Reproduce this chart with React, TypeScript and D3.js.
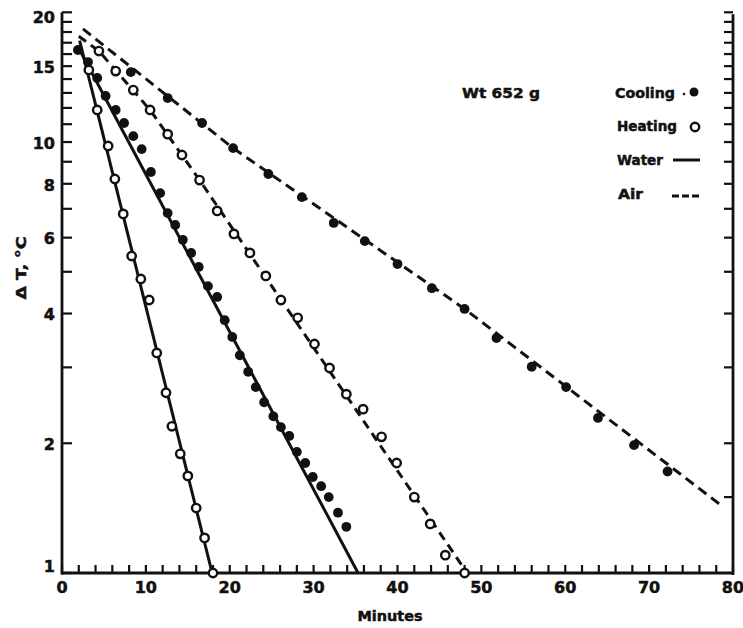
import React from "react";
import * as d3 from "d3";

// ---- data ----
const xTickValues = [0, 10, 20, 30, 40, 50, 60, 70, 80];
const xMinorTicks = d3.range(0, 81, 2);
const yTickLabels = [1, 2, 4, 6, 8, 10, 15, 20];
const yLeftTicks = [1, 2, 3, 4, 5, 6, 7, 8, 9, 10, 11, 12, 13, 14, 15, 16, 17, 18, 19, 20];
const yRightTicks = [1.5, 2, 3, 4, 5, 6, 7, 8, 9, 10, 11, 12, 13, 14, 15, 16, 17, 18, 19, 20];

// Water, heating (open circles)
const waterHeatX = [3.2, 4.2, 5.5, 6.3, 7.3, 8.3, 9.4, 10.4, 11.3, 12.4, 13.1, 14.1, 15.0, 16.0, 17.0, 18.0];
const waterHeatY = [14.69, 11.87, 9.79, 8.21, 6.81, 5.44, 4.81, 4.3, 3.24, 2.62, 2.19, 1.89, 1.68, 1.415, 1.206, 1.0];
// Water, cooling (filled)
const waterCoolX = [1.9, 3.1, 4.2, 5.2, 6.4, 7.4, 8.5, 9.5, 10.6, 11.7, 12.6, 13.5, 14.4, 15.4, 16.3, 17.4, 18.5, 19.4, 20.3, 21.2, 22.2, 23.1, 24.1, 25.2, 26.1, 27.1, 28.0, 29.0, 29.9, 30.9, 31.8, 32.9, 33.9];
const waterCoolY = [16.35, 15.33, 14.08, 12.79, 11.87, 11.07, 10.32, 9.63, 8.52, 7.61, 6.84, 6.42, 5.93, 5.53, 5.13, 4.63, 4.37, 3.86, 3.53, 3.2, 2.93, 2.7, 2.49, 2.31, 2.18, 2.08, 1.91, 1.8, 1.67, 1.59, 1.5, 1.38, 1.28];
// Air, heating (open circles)
const airHeatX = [4.4, 6.4, 8.5, 10.5, 12.6, 14.3, 16.4, 18.5, 20.5, 22.4, 24.3, 26.1, 28.1, 30.1, 31.9, 33.9, 35.9, 38.1, 39.9, 42.0, 43.9, 45.7, 48.0];
const airHeatY = [16.26, 14.61, 13.2, 11.87, 10.43, 9.33, 8.16, 6.92, 6.12, 5.53, 4.89, 4.3, 3.91, 3.4, 2.99, 2.6, 2.4, 2.07, 1.8, 1.5, 1.3, 1.1, 1.0];
// Air, cooling (filled)
const airCoolX = [8.2, 12.6, 16.7, 20.4, 24.6, 28.6, 32.4, 36.1, 40.0, 44.1, 48.0, 51.8, 56.0, 60.1, 63.9, 68.2, 72.2];
const airCoolY = [14.53, 12.65, 11.07, 9.68, 8.43, 7.45, 6.49, 5.89, 5.21, 4.58, 4.1, 3.51, 3.01, 2.7, 2.29, 1.98, 1.72];

// Fitted lines as drawn in the figure
const waterHeatLineX = [2.1, 17.9];
const waterHeatLineY = [17.2, 1.0];
const waterCoolLineX = [2.0, 35.3];
const waterCoolLineY = [16.5, 1.0];
const airHeatLineX = [2.0, 4.4, 10.5, 16.4, 48.3];
const airHeatLineY = [17.6, 16.26, 11.87, 8.16, 1.0];
const airCoolLineX = [2.5, 20.4, 48.0, 78.7];
const airCoolLineY = [18.3, 9.68, 4.1, 1.43];

const legendLabels = ["Cooling", "Heating", "Water", "Air"];
const weightLabel = "Wt 652 g";

const W = 743;
const H = 628;
const FONT = "'DejaVu Sans', 'Liberation Sans', Arial, sans-serif";

export default function App() {
  const x = d3.scaleLinear().domain([0, 80]).range([62, 733]);
  const y = d3.scaleLog().domain([1, 20]).range([573, 12.3]);
  const line = d3
    .line<[number, number]>()
    .x((d) => x(d[0]))
    .y((d) => y(d[1]));
  const zip = (a: number[], b: number[]) => a.map((v, i) => [v, b[i]] as [number, number]);

  const ink = "#111";
  const textStyle = { stroke: ink, strokeWidth: 0.5 } as const;

  return (
    <svg
      width={W}
      height={H}
      viewBox={`0 0 ${W} ${H}`}
      style={{ position: "absolute", left: 0, top: 0, background: "#fff" }}
      fontFamily={FONT}
    >
      <rect x={0} y={0} width={W} height={H} fill="#fff" />
      {/* axes */}
      <line x1={x(0)} x2={x(0)} y1={y(1) + 1.5} y2={y(20)} stroke={ink} strokeWidth={2.8} />
      <line x1={x(80)} x2={x(80)} y1={y(1) + 2} y2={y(20) + 2} stroke={ink} strokeWidth={2.8} />
      <line x1={x(0) - 1} x2={x(80) + 1} y1={y(1)} y2={y(1)} stroke={ink} strokeWidth={3} />

      {/* x ticks */}
      {xMinorTicks.map((t) => (
        <line key={"xt" + t} x1={x(t)} x2={x(t)} y1={y(1)} y2={y(1) - 8} stroke={ink} strokeWidth={2.2} />
      ))}
      {xTickValues.map((t) => (
        <text key={"xl" + t} x={x(t)} y={593} textAnchor="middle" fontSize={16} fontWeight="bold" fill={ink} {...textStyle}>
          {t}
        </text>
      ))}

      {/* y ticks left */}
      {yLeftTicks.map((t) => (
        <line key={"yl" + t} x1={x(0)} x2={x(0) + 10} y1={y(t)} y2={y(t)} stroke={ink} strokeWidth={2.2} />
      ))}
      {yRightTicks.map((t) => (
        <line key={"yr" + t} x1={x(80)} x2={x(80) - 9} y1={y(t)} y2={y(t)} stroke={ink} strokeWidth={2.2} />
      ))}
      {yTickLabels.map((t) => {
        const cy = Math.min(566, Math.max(17, y(t) + 1));
        return (
          <text key={"ylab" + t} x={55} y={cy} dy="0.36em" textAnchor="end" fontSize={16} fontWeight="bold" fill={ink} {...textStyle}>
            {t}
          </text>
        );
      })}

      {/* axis titles */}
      <text x={390} y={621} textAnchor="middle" fontSize={14} fontWeight="bold" fill={ink} textLength={65} lengthAdjust="spacingAndGlyphs" {...textStyle}>
        Minutes
      </text>
      <text
        transform="translate(26,268) rotate(-90)"
        textAnchor="middle"
        fontSize={14}
        fontWeight="bold"
        fill={ink}
        textLength={63}
        lengthAdjust="spacingAndGlyphs"
        {...textStyle}
      >
        Δ T, °C
      </text>

      {/* fitted lines */}
      <path d={line(zip(waterHeatLineX, waterHeatLineY)) || ""} fill="none" stroke={ink} strokeWidth={3} />
      <path d={line(zip(waterCoolLineX, waterCoolLineY)) || ""} fill="none" stroke={ink} strokeWidth={3} />
      <path d={line(zip(airHeatLineX, airHeatLineY)) || ""} fill="none" stroke={ink} strokeWidth={3} strokeDasharray="9,6" />
      <path d={line(zip(airCoolLineX, airCoolLineY)) || ""} fill="none" stroke={ink} strokeWidth={3} strokeDasharray="10,6" />

      {/* markers */}
      {zip(waterCoolX, waterCoolY).map((d, i) => (
        <circle key={"wc" + i} cx={x(d[0])} cy={y(d[1])} r={4.9} fill={ink} />
      ))}
      {zip(airCoolX, airCoolY).map((d, i) => (
        <circle key={"ac" + i} cx={x(d[0])} cy={y(d[1])} r={4.9} fill={ink} />
      ))}
      {zip(waterHeatX, waterHeatY).map((d, i) => (
        <circle key={"wh" + i} cx={x(d[0])} cy={y(d[1])} r={4.2} fill="#fff" stroke={ink} strokeWidth={2.4} />
      ))}
      {zip(airHeatX, airHeatY).map((d, i) => (
        <circle key={"ah" + i} cx={x(d[0])} cy={y(d[1])} r={4.2} fill="#fff" stroke={ink} strokeWidth={2.4} />
      ))}

      {/* annotations / legend */}
      <text x={462} y={98} fontSize={14} fontWeight="bold" fill={ink} textLength={78} lengthAdjust="spacingAndGlyphs" {...textStyle}>
        {weightLabel}
      </text>
      <text x={615} y={98} fontSize={14} fontWeight="bold" fill={ink} textLength={60} lengthAdjust="spacingAndGlyphs" {...textStyle}>
        {legendLabels[0]}
      </text>
      <circle cx={684} cy={94} r={1.3} fill={ink} />
      <circle cx={694} cy={92} r={4.5} fill={ink} />
      <text x={617} y={131} fontSize={14} fontWeight="bold" fill={ink} textLength={60} lengthAdjust="spacingAndGlyphs" {...textStyle}>
        {legendLabels[1]}
      </text>
      <circle cx={695} cy={127} r={4.2} fill="#fff" stroke={ink} strokeWidth={2.4} />
      <text x={617} y={165} fontSize={14} fontWeight="bold" fill={ink} textLength={46} lengthAdjust="spacingAndGlyphs" {...textStyle}>
        {legendLabels[2]}
      </text>
      <line x1={673} x2={700} y1={160} y2={160} stroke={ink} strokeWidth={3} />
      <text x={618} y={199} fontSize={14} fontWeight="bold" fill={ink} textLength={25} lengthAdjust="spacingAndGlyphs" {...textStyle}>
        {legendLabels[3]}
      </text>
      <line x1={672} x2={700} y1={196} y2={196} stroke={ink} strokeWidth={3} strokeDasharray="7,3" />
    </svg>
  );
}
